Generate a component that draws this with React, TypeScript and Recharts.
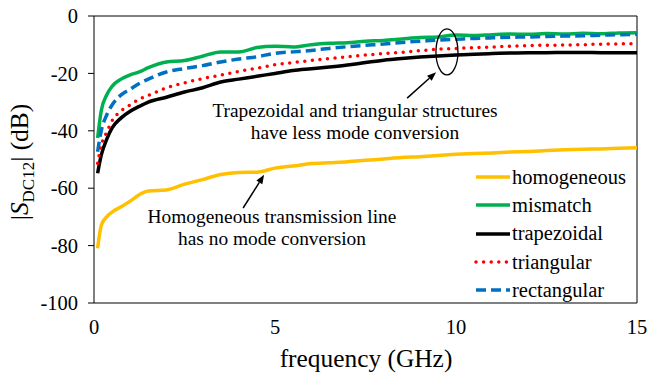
import { LineChart, Line, XAxis, YAxis, Legend, ReferenceArea, ReferenceLine, ReferenceDot } from 'recharts';

const freq = [0.1, 0.2, 0.35, 0.5, 0.75, 1, 1.25, 1.5, 2, 2.5, 3, 3.5, 4, 4.5, 5, 5.5, 6, 6.5, 7, 7.5, 8, 8.5, 9, 9.5, 10, 10.5, 11, 11.5, 12, 12.5, 13, 13.5, 14, 14.5, 15];

const homogeneous = [-80.9, -73, -70, -68.3, -66.5, -64.5, -62.3, -61, -60.6, -58.6, -57, -55.2, -54.5, -54.4, -53, -52.3, -51.4, -51.1, -50.8, -50.3, -49.8, -49.3, -49, -48.6, -48.2, -47.9, -47.7, -47.4, -47.2, -46.9, -46.6, -46.4, -46.3, -46.1, -45.9];
const mismatch = [-42.5, -33, -27.5, -24.5, -22, -20.5, -19.5, -18, -16, -15.5, -14, -12.5, -12.5, -11, -10.5, -10.8, -10, -9.5, -9.3, -8.8, -8.5, -8, -7.5, -7.3, -6.6, -6.8, -6.5, -6.3, -6.4, -6.1, -6.3, -6, -6.2, -5.9, -5.8];
const trapezoidal = [-54.8, -48.5, -43, -39, -35.5, -33.2, -31.5, -30, -28.3, -26.5, -25, -23, -22, -21, -20, -19, -18.4, -17.8, -17.1, -16.2, -15.4, -14.8, -14.3, -13.9, -13.6, -13.3, -13.1, -12.9, -12.8, -12.8, -12.7, -12.7, -12.8, -12.8, -12.8];
const triangular = [-51.3, -45, -40.5, -36.5, -33, -31, -29, -27.7, -25, -23.3, -21.8, -20.6, -19.3, -18.2, -17, -16.2, -15.5, -14.8, -14.2, -13.6, -13.1, -12.7, -12.1, -11.6, -11.3, -11, -10.8, -10.5, -10.3, -10.2, -10.1, -10, -9.8, -9.7, -9.6];
const rectangular = [-47.3, -40, -34.5, -31, -27.5, -25.5, -23.5, -22, -19.5, -18.3, -17.3, -16, -15, -14.2, -13, -12.5, -12, -11.3, -10.7, -10.2, -9.8, -9.2, -8.8, -8.4, -8.1, -7.8, -7.6, -7.4, -7.3, -7.1, -7, -6.9, -6.7, -6.5, -6.4];

const xTicks = [0, 5, 10, 15];
const yTicks = [-100, -80, -60, -40, -20, 0];

const data = freq.map((f, i) => ({
  f,
  homogeneous: homogeneous[i],
  mismatch: mismatch[i],
  trapezoidal: trapezoidal[i],
  triangular: triangular[i],
  rectangular: rectangular[i],
}));

const FONT = '"Liberation Serif", "Times New Roman", serif';

const series = [
  { key: 'homogeneous', color: '#FFC000', dash: undefined, cap: 'butt' },
  { key: 'mismatch', color: '#00B050', dash: undefined, cap: 'butt' },
  { key: 'trapezoidal', color: '#000000', dash: undefined, cap: 'butt' },
  { key: 'triangular', color: '#FF0000', dash: '0 7.6', cap: 'round' },
  { key: 'rectangular', color: '#0070C0', dash: '10 5', cap: 'butt' },
] as const;

const Arrow = (props: any) => {
  const { x1, y1, x2, y2 } = props;
  const ang = Math.atan2(y2 - y1, x2 - x1);
  const len = 9;
  const w = 3.5;
  const bx = x2 - len * Math.cos(ang);
  const by = y2 - len * Math.sin(ang);
  const px = -Math.sin(ang) * w;
  const py = Math.cos(ang) * w;
  return (
    <g>
      <line x1={x1} y1={y1} x2={bx} y2={by} stroke="#000" strokeWidth={1.5} />
      <polygon points={`${x2},${y2} ${bx + px},${by + py} ${bx - px},${by - py}`} fill="#000" />
    </g>
  );
};

const renderLegend = () => (
  <div style={{ fontFamily: FONT, fontSize: 20.5, color: '#000' }}>
    {series.map((s) => (
      <div key={s.key} style={{ display: 'flex', alignItems: 'center', height: 28.3 }}>
        <svg width={38} height={10} style={{ display: 'block' }}>
          <line x1={2} y1={5} x2={36} y2={5} stroke={s.color} strokeWidth={3.5}
            strokeDasharray={s.dash} strokeLinecap={s.cap} />
        </svg>
        <span style={{ lineHeight: 1 }}>{s.key}</span>
      </div>
    ))}
  </div>
);

export default function App() {
  return (
    <div style={{ position: 'absolute', left: 0, top: 0, width: 649, height: 375, background: '#fff', fontFamily: FONT }}>
      <LineChart width={649} height={375} data={data} margin={{ top: 16, right: 12, left: 34, bottom: 42 }}>
        <ReferenceArea x1={0} x2={15} y1={-100} y2={0} fill="none" stroke="#000" strokeWidth={1} ifOverflow="visible" />
        <XAxis dataKey="f" type="number" domain={[0, 15]} ticks={xTicks} height={30} axisLine={false} tickLine={false}
          tick={{ fontSize: 20.5, fill: '#000', fontFamily: FONT }} tickMargin={10} />
        <YAxis type="number" domain={[-100, 0]} ticks={yTicks} width={60} axisLine={false} tickSize={6}
          tickLine={{ stroke: '#000' }} tick={{ fontSize: 20.5, fill: '#000', fontFamily: FONT }} tickMargin={10} />
        {series.map((s) => (
          <Line key={s.key} dataKey={s.key} type="monotone" stroke={s.color} strokeWidth={3.5}
            strokeDasharray={s.dash} strokeLinecap={s.cap} dot={false} activeDot={false} isAnimationActive={false} />
        ))}
        <ReferenceDot x={9.75} y={-12.5} ifOverflow="visible"
          shape={(p: any) => <ellipse cx={p.cx} cy={p.cy} rx={11} ry={23} fill="none" stroke="#000" strokeWidth={1.3} />} />
        <ReferenceLine segment={[{ x: 8.65, y: -28.6 }, { x: 9.45, y: -19.6 }]} shape={Arrow} ifOverflow="visible" />
        <ReferenceLine segment={[{ x: 4.12, y: -66.9 }, { x: 4.7, y: -55.3 }]} shape={Arrow} ifOverflow="visible" />
        <Legend content={renderLegend} layout="horizontal" verticalAlign="middle" align="center"
          wrapperStyle={{ left: 474, top: 163, width: 170 }} />
      </LineChart>

      <div style={{ position: 'absolute', left: 150, top: 100, width: 410, textAlign: 'center', fontSize: 19.4, lineHeight: '22px', color: '#000' }}>
        Trapezoidal and triangular structures<br />have less mode conversion
      </div>
      <div style={{ position: 'absolute', left: 72, top: 206, width: 400, textAlign: 'center', fontSize: 19.4, lineHeight: '22px', color: '#000' }}>
        Homogeneous transmission line<br />has no mode conversion
      </div>
      <div style={{ position: 'absolute', left: 366, top: 366, transform: 'translate(-50%, -78%)', fontSize: 25.4, whiteSpace: 'nowrap', color: '#000', lineHeight: 1 }}>
        frequency (GHz)
      </div>
      <svg style={{ position: 'absolute', left: 0, top: 0 }} width={60} height={375}>
        <text x={0} y={0} transform="translate(28,162) rotate(-90)" textAnchor="middle" fontFamily={FONT} fontSize={25.4} fill="#000">
          |<tspan fontStyle="italic">S</tspan><tspan fontSize={17} dy={6}>DC12</tspan><tspan dy={-6}>| (dB)</tspan>
        </text>
      </svg>
    </div>
  );
}
